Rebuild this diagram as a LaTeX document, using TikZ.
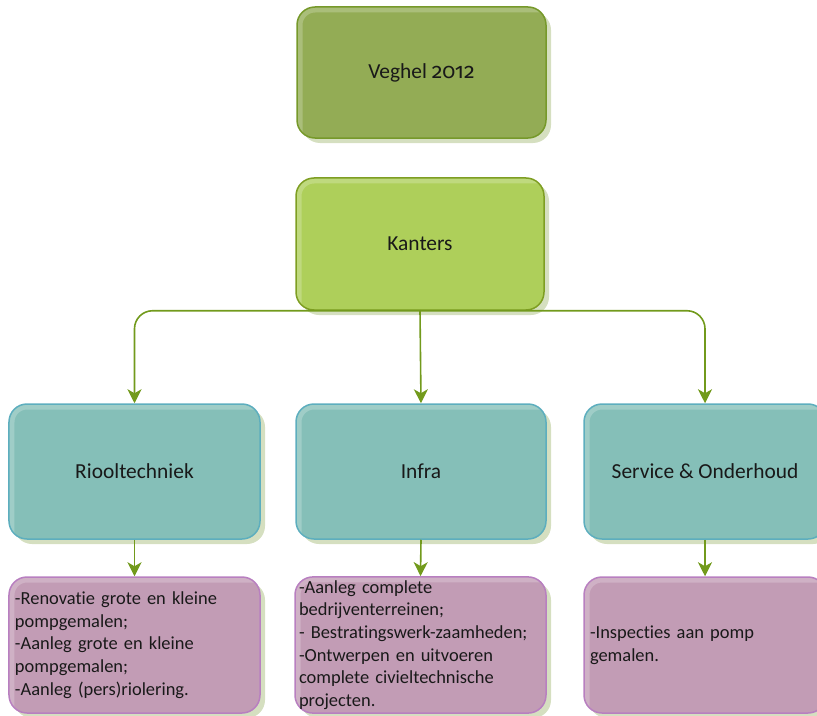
\documentclass[tikz,border=0pt]{standalone}
\usepackage{fontspec}
\setmainfont{Carlito}[Ligatures=NoCommon]
\newfontfamily\osf{Fira Sans}[Numbers=OldStyle]
\usetikzlibrary{arrows.meta,shadows}
\definecolor{vfill}{HTML}{93AC55}
\definecolor{vline}{HTML}{76992A}
\definecolor{kfill}{HTML}{AECF5A}
\definecolor{kline}{HTML}{7E9E22}
\definecolor{tfill}{HTML}{85BFB8}
\definecolor{tline}{HTML}{5DAEBE}
\definecolor{pfill}{HTML}{C29CB5}
\definecolor{pline}{HTML}{B87FC0}
\definecolor{shadowc}{HTML}{D5DFC0}
\definecolor{arrowc}{HTML}{729A1C}
\tikzset{
  basebox/.style={rectangle, draw, line width=1.5bp, rounded corners=18bp,
    drop shadow={shadow xshift=5bp, shadow yshift=-5bp, fill=shadowc, opacity=1},
    text=black!90,
    path picture={\draw[white, opacity=0.22, line width=7bp, rounded corners=16bp]
      ([shift={(2bp,-2bp)}]path picture bounding box.south west) |- ([shift={(-2bp,-2bp)}]path picture bounding box.north east);}},
  titlebox/.style={basebox, minimum width=250bp, minimum height=132bp,
    font=\fontsize{21.5}{25}\selectfont},
  vbox/.style={titlebox, fill=vfill, draw=vline},
  kbox/.style={titlebox, fill=kfill, draw=kline},
  tbox/.style={titlebox, fill=tfill, draw=tline},
  pbox/.style={basebox, fill=pfill, draw=pline, minimum height=136bp,
    align=left, inner xsep=6bp, font=\fontsize{18.5}{22.8}\selectfont},
  conn/.style={draw=arrowc, line width=1.6bp, rounded corners=18bp,
    -{Stealth[length=14bp, width=14bp, inset=4bp]}}
}
\begin{document}
\begin{tikzpicture}[x=1bp, y=-1bp]
\useasboundingbox (0,0) rectangle (817,716);
\clip (0,0) rectangle (817,716);
\node[vbox, minimum width=249bp, minimum height=131bp] (veghel) at (421.5,72.5) {Veghel {\osf 2012}};
\node[kbox, minimum width=248bp] (kanters) at (420,244) {Kanters};
\node[tbox, minimum width=251bp, minimum height=135bp] (rioo) at (134.5,471.5) {Riooltechniek};
\node[tbox, minimum width=250bp, minimum height=135bp] (infra) at (421,471.5) {Infra};
\node[tbox, minimum width=242bp, minimum height=135bp] (service) at (705,471.5) {Service \& Onderhoud};
\node[pbox, text width=239bp] (riool) at (134.5,645) {-Renovatie grote en kleine\\pompgemalen;\\-Aanleg grote en kleine\\pompgemalen;\\-Aanleg (pers)riolering.};
\node[pbox, text width=243bp, inner xsep=4bp] (infral) at (420.5,645) {-Aanleg complete\\bedrijventerreinen;\\- Bestratingswerk-zaamheden;\\-Ontwerpen en uitvoeren\\complete civieltechnische\\projecten.};
\node[pbox, text width=230bp] (servicel) at (705,645) {-Inspecties aan pomp\\gemalen.};
\path[conn] (kanters.south) -| (rioo.north);
\path[conn] (kanters.south) -- (infra.north);
\path[conn] (kanters.south) -| (service.north);
\path[conn] (rioo.south) -- (riool.north);
\path[conn] (infra.south) -- (infral.north);
\path[conn] (service.south) -- (servicel.north);
\end{tikzpicture}
\end{document}
